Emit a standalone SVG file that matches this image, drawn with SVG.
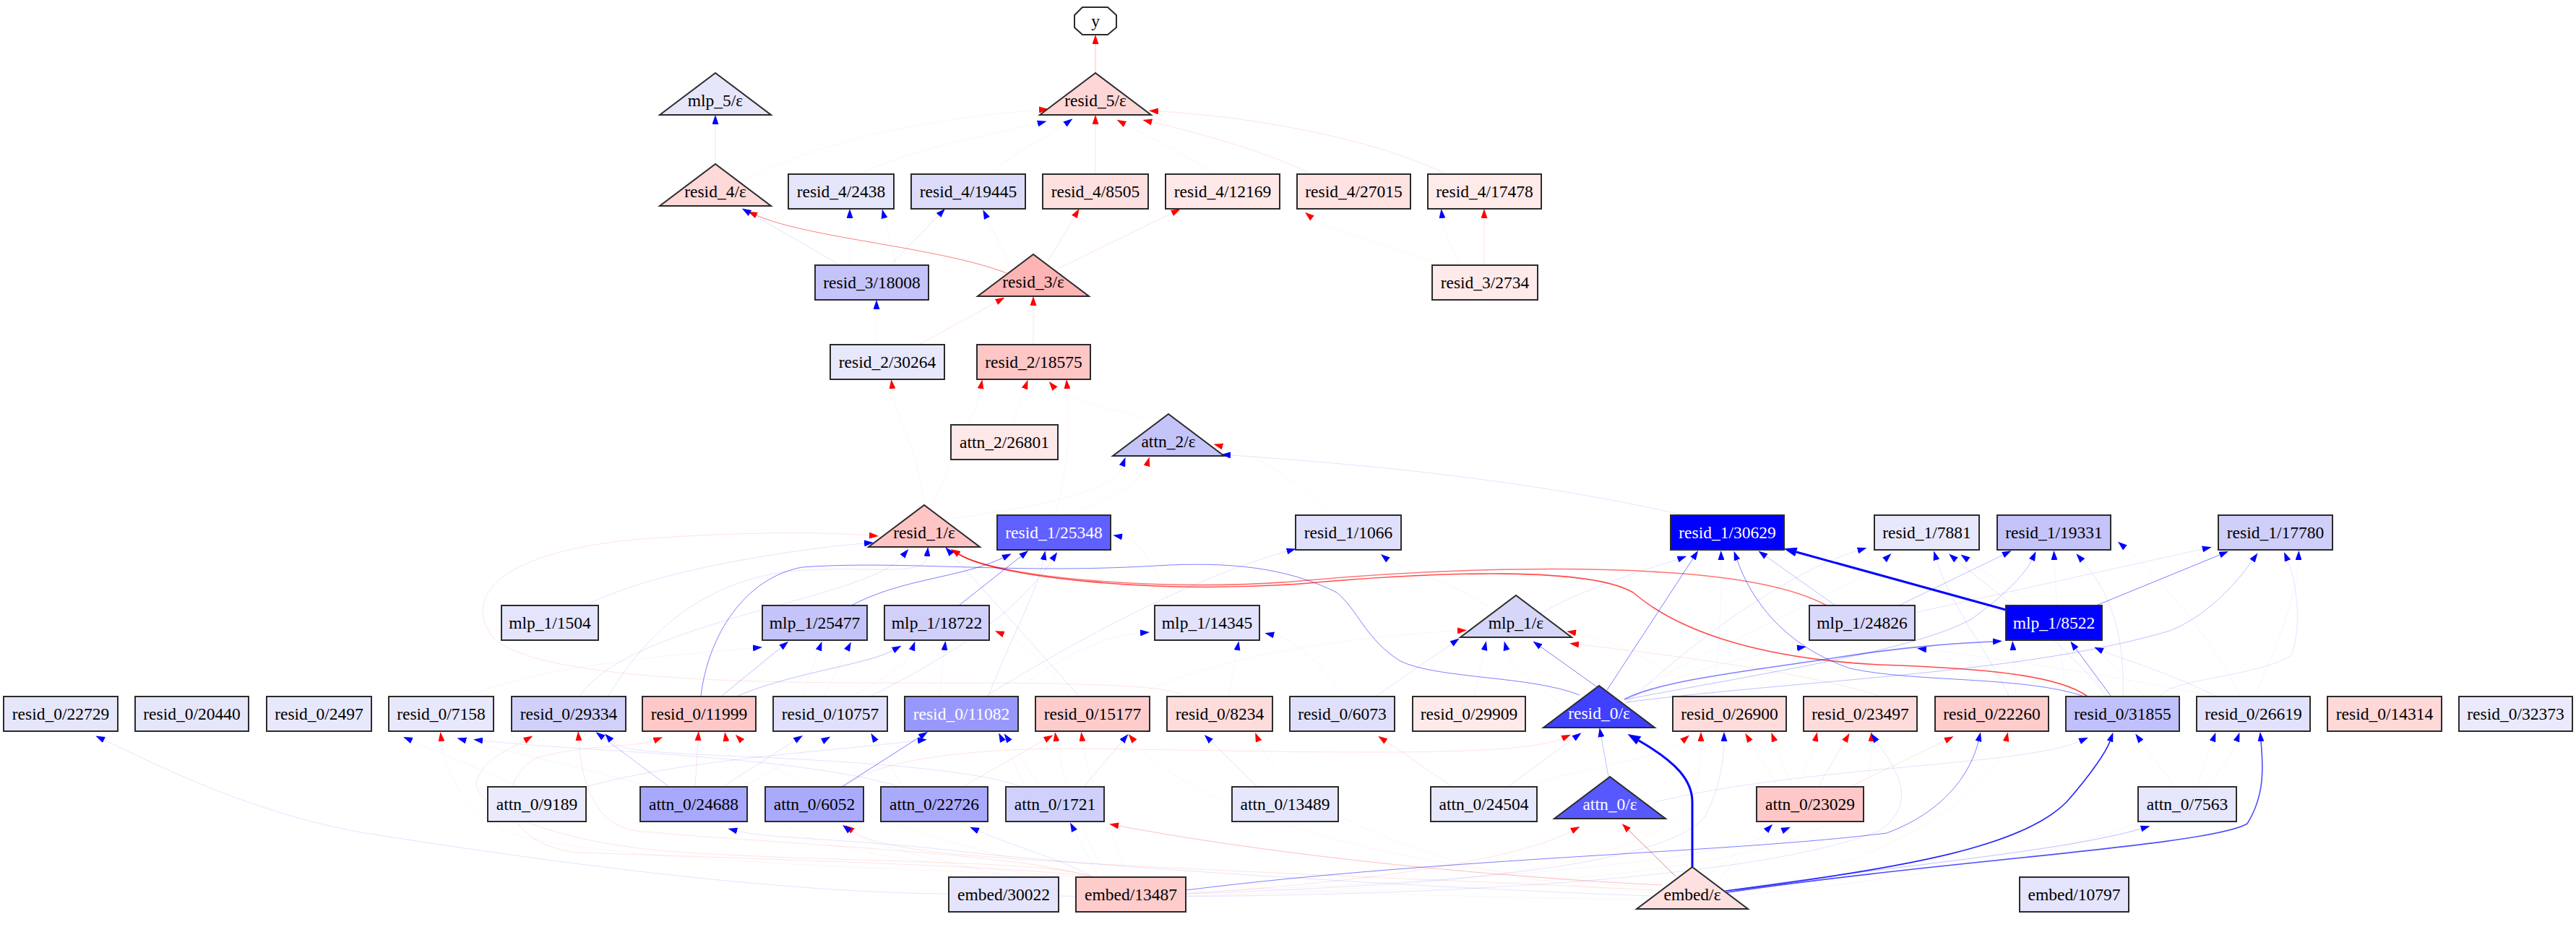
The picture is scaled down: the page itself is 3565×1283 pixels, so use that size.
<svg xmlns="http://www.w3.org/2000/svg" width="3565" height="1283" viewBox="0 0 3565 1283">
<style>
.nd rect, .nd polygon {stroke:#2b2b2b; stroke-width:2}
.nd text {font-family:"Liberation Serif","Times New Roman",serif; font-size:23.5px; text-anchor:middle; fill:#000}
.nd text.w {fill:#fff}
#edges path {fill:none; stroke-width:1}
#edges .r {stroke:#f00; marker-end:url(#ar)}
#edges .b {stroke:#00f; marker-end:url(#ab)}
#edges .bl {stroke:#00f; marker-end:url(#abL); stroke-width:3}
#edges .w2 {stroke-width:1.6}
#edges .nm {marker-end:none}
.o1 {stroke-opacity:.045} .o2 {stroke-opacity:.11} .o3 {stroke-opacity:.25} .o4 {stroke-opacity:.5} .o5 {stroke-opacity:.7}
</style>
<defs>
<marker id="ar" viewBox="0 0 13 9" refX="0" refY="4.5" markerWidth="13" markerHeight="9" markerUnits="userSpaceOnUse" orient="auto"><path d="M0,0 L13,4.5 L0,9 z" fill="#f00"/></marker>
<marker id="ab" viewBox="0 0 13 9" refX="0" refY="4.5" markerWidth="13" markerHeight="9" markerUnits="userSpaceOnUse" orient="auto"><path d="M0,0 L13,4.5 L0,9 z" fill="#00f"/></marker>
<marker id="abL" viewBox="0 0 18 13" refX="0" refY="6.5" markerWidth="18" markerHeight="13" markerUnits="userSpaceOnUse" orient="auto"><path d="M0,0 L18,6.5 L0,13 z" fill="#00f"/></marker>
</defs>
<rect width="3565" height="1283" fill="#fff"/>

<g id="edges">
<!-- layers 3-5 -->
<path class="r o3" d="M1516,101 L1516,61"/>
<path class="r o2" d="M1516,241 L1516,172"/>
<path class="r o2" d="M1814,241 C1760,212 1660,184 1594,169"/>
<path class="r o2" d="M2002,241 C1900,190 1720,160 1603,154"/>
<path class="r o1" d="M1680,241 C1640,212 1590,190 1557,172"/>
<path class="b o1" d="M1370,241 C1400,212 1450,190 1474,172"/>
<path class="b o1" d="M1190,241 C1260,205 1380,185 1436,171"/>
<path class="r o1" d="M1030,250 C1150,185 1330,160 1438,152"/>
<path class="b o2" d="M990,227 L990,172"/>
<path class="r o4" d="M1393,378 C1300,342 1120,330 1047,298"/>
<path class="b o2" d="M1163,367 L1038,295"/>
<path class="b o2" d="M1232,367 L1299,298"/>
<path class="r o2" d="M1450,362 L1487,300"/>
<path class="r o2" d="M1464,372 L1622,295"/>
<path class="r o2" d="M2054,366 L2054,302"/>
<path class="r o1" d="M1990,366 C1930,340 1840,322 1816,302"/>
<path class="b o1" d="M2020,366 C2008,340 1998,320 1996,302"/>
<path class="b o1" d="M1176,367 L1176,302"/>
<path class="b o1" d="M1240,367 L1224,302"/>
<path class="b o1" d="M1398,368 L1366,302"/>
<!-- layer 2 -->
<path class="r o2" d="M1272,477 L1379,418"/>
<path class="r o2" d="M1430,477 L1430,423"/>
<path class="b o1" d="M1213,477 L1213,428"/>
<path class="r o1" d="M1279,699 C1270,620 1240,580 1235,538"/>
<path class="r o1" d="M1400,588 L1418,538"/>
<path class="r o1" d="M1290,700 C1320,630 1350,575 1357,538"/>
<path class="r o1" d="M1590,580 C1520,562 1470,550 1460,538"/>
<path class="r o1" d="M1460,713 C1480,650 1480,575 1477,538"/>
<path class="b o2" d="M2330,713 C2100,660 1850,640 1703,630"/>
<path class="r o1" d="M1840,713 C1780,650 1730,628 1692,618"/>
<path class="b o1" d="M1300,720 C1450,700 1540,680 1553,645"/>
<path class="r o1" d="M1480,713 C1530,690 1580,670 1587,645"/>
<!-- layer 1 residuals -->
<path class="r w2" style="stroke-opacity:.55" d="M2528,838 C2480,812 2400,798 2300,792 C2150,782 1950,790 1800,804 C1620,820 1380,800 1327,767"/>
<path class="r w2" style="stroke-opacity:.7" d="M2889,964 C2850,935 2750,925 2600,920 C2450,912 2330,880 2260,820 C2200,785 2000,790 1800,808 C1600,822 1380,800 1327,767"/>
<path class="r o2" d="M1640,964 C1620,945 1450,945 1200,945 C900,945 720,925 680,880 C640,820 700,760 900,745 C1050,735 1150,737 1203,741"/>
<path class="b o2" d="M811,838 C900,790 1100,760 1196,752"/>
<path class="b o2" d="M803,963 C870,860 1200,830 1249,770"/>
<path class="b o2" d="M842,963 C910,850 1000,800 1100,790 C1200,782 1280,800 1283,770"/>
<path class="b o2" d="M1493,963 L1317,767"/>
<path class="b o4" d="M1178,838 C1250,800 1330,800 1388,772"/>
<path class="b o4" d="M1327,838 L1413,770"/>
<path class="b o2" d="M1368,963 C1400,880 1435,820 1444,775"/>
<path class="b o2" d="M1206,963 C1290,920 1400,860 1456,775"/>
<path class="b o1" d="M1620,838 C1600,790 1580,748 1553,743"/>
<path class="b o2" d="M1365,963 C1500,880 1650,800 1781,763"/>
<path class="b o1" d="M2060,840 C2000,800 1940,790 1921,775"/>
<path class="bl" d="M2776,844 L2486,764"/>
<path class="b o4" d="M2224,955 L2343,773"/>
<path class="b o4" d="M2885,964 C2800,935 2650,945 2560,925 C2460,890 2420,820 2404,775"/>
<path class="b o2" d="M2130,850 C2200,810 2290,785 2322,774"/>
<path class="b o3" d="M2540,838 L2444,770"/>
<path class="b o1" d="M2370,964 C2380,900 2383,820 2382,775"/>
<path class="b o2" d="M2250,975 C2350,880 2480,790 2571,762"/>
<path class="b o1" d="M2245,968 C2350,900 2560,820 2608,775"/>
<path class="b o2" d="M2780,963 C2750,900 2700,840 2680,775"/>
<path class="b o2" d="M2915,963 C2850,880 2760,820 2707,775"/>
<path class="b o1" d="M2965,963 C2920,900 2800,830 2724,775"/>
<path class="b o3" d="M2628,838 L2772,768"/>
<path class="b o3" d="M2250,968 C2450,930 2650,900 2728,857 C2780,820 2805,790 2812,775"/>
<path class="b o1" d="M2860,964 C2850,900 2845,820 2843,775"/>
<path class="b o2" d="M2938,963 C2940,900 2930,830 2882,776"/>
<path class="b o1" d="M3100,963 C3060,880 2980,790 2941,758"/>
<path class="b o2" d="M2650,848 L3048,760"/>
<path class="b o4" d="M2901,838 L3072,768"/>
<path class="b o3" d="M2250,972 C2500,940 2800,933 3003,873 C3060,850 3100,800 3117,776"/>
<path class="b o2" d="M2990,963 C3003,940 3130,935 3171,907 C3185,870 3180,810 3166,776"/>
<path class="b o1" d="M3120,963 C3150,900 3180,820 3181,775"/>
<!-- layer 1 mlp -->
<path class="b o3" d="M999,963 L1081,896"/>
<path class="b o3" d="M1021,963 C1100,930 1200,920 1236,900"/>
<path class="b o1" d="M650,963 C750,920 950,905 1042,897"/>
<path class="b o1" d="M1110,963 L1133,900"/>
<path class="b o1" d="M1140,963 L1172,900"/>
<path class="b o1" d="M1180,963 C1220,940 1255,920 1262,900"/>
<path class="b o1" d="M1300,963 L1307,900"/>
<path class="r o1" d="M1480,963 C1450,920 1420,890 1389,878"/>
<path class="b o1" d="M1395,963 C1450,920 1520,880 1578,876"/>
<path class="b o1" d="M1860,963 C1820,910 1790,885 1763,879"/>
<path class="b o1" d="M1700,963 L1712,900"/>
<path class="r o1" d="M1570,963 C1700,900 1900,880 2017,873"/>
<path class="b o2" d="M1905,963 L2009,891"/>
<path class="b o1" d="M2040,963 L2054,900"/>
<path class="b o1" d="M2160,975 C2120,940 2090,920 2085,900"/>
<path class="b o4" d="M2212,952 L2132,895"/>
<path class="r o1" d="M2360,963 C2300,920 2230,885 2181,876"/>
<path class="r o2" d="M2600,963 C2500,930 2300,905 2185,892"/>
<path class="b o1" d="M2240,975 C2300,940 2400,910 2487,897"/>
<path class="b o1" d="M3060,963 C2900,930 2750,910 2666,899"/>
<path class="b o4 w2" d="M2248,968 C2300,940 2450,925 2542,910 C2650,893 2720,890 2758,888"/>
<path class="b o1" d="M2790,963 L2786,900"/>
<path class="b o4" d="M2921,963 L2873,898"/>
<path class="b o2" d="M3066,963 C3000,930 2930,910 2910,901"/>
<path class="b o4 nm" d="M970,963 C980,880 1030,800 1110,785 C1250,775 1400,795 1600,783 C1700,777 1780,785 1850,820 C1880,845 1890,885 1938,915 C1990,940 2119,935 2186,962"/>
<!-- layer 0 residuals -->
<path class="b o2" d="M1313,1237 C1100,1236 800,1200 500,1152 C350,1125 230,1065 144,1024"/>
<path class="b o3" d="M926,1089 L835,1021"/>
<path class="r o2" d="M962,1089 L966,1025"/>
<path class="b o4" d="M1165,1089 L1273,1020"/>
<path class="b o2" d="M1000,1089 L1100,1025"/>
<path class="r o2" d="M1332,1089 L1446,1024"/>
<path class="b o2" d="M1414,1089 C1340,1060 1100,1050 980,1045 C900,1040 860,1040 846,1025"/>
<path class="b o2" d="M811,1089 C950,1050 1150,1040 1270,1025"/>
<path class="b o2" d="M1246,1089 C1100,1045 800,1040 668,1025"/>
<path class="r o2" d="M1514,1214 C1450,1190 1200,1195 950,1180 C780,1170 650,1120 660,1080 C670,1050 700,1040 726,1025"/>
<path class="r o2" d="M1514,1214 C1400,1180 1100,1170 880,1150 C820,1140 805,1080 801,1025"/>
<path class="r o2" d="M1514,1214 C1420,1200 1100,1190 800,1180 C700,1170 680,1090 740,1050 C800,1030 880,1035 905,1025"/>
<path class="r o3" d="M2300,1225 C2100,1215 1800,1190 1548,1143"/>
<path class="r o2" d="M2290,1232 C2000,1217 1500,1200 1300,1180 C1240,1172 1200,1165 1180,1150"/>
<path class="b o2" d="M2285,1240 C2000,1230 1500,1200 1300,1175 C1150,1160 1060,1160 1020,1150"/>
<path class="b o2" d="M1514,1214 C1470,1190 1400,1170 1354,1150"/>
<path class="b o1" d="M1520,1214 L1487,1150"/>
<path class="b o3" d="M2388,1233 C2600,1200 2850,1180 2963,1147"/>
<path class="r o4" d="M2319,1213 L2254,1149"/>
<path class="r o2" d="M1641,1237 C1900,1220 2100,1190 2175,1150"/>
<path class="b o3" d="M2226,1075 L2216,1020"/>
<path class="bl" d="M2342,1200 L2342,1110 C2342,1080 2320,1055 2268,1025"/>
<path class="b w2" style="stroke-opacity:.85" d="M2388,1233 C2650,1200 2800,1170 2860,1110 C2895,1070 2915,1040 2920,1026"/>
<path class="b o5 w2" d="M2390,1235 C2700,1190 3060,1170 3110,1140 C3135,1100 3132,1060 3129,1026"/>
<path class="b o4" d="M1641,1232 C2000,1187 2400,1180 2611,1153 C2700,1120 2730,1060 2738,1026"/>
<path class="b o2" d="M1641,1237 C2000,1225 2300,1200 2360,1130 C2380,1090 2386,1050 2386,1026"/>
<path class="b o2" d="M2086,1089 L2178,1022"/>
<path class="r o2" d="M1170,1089 C1200,1060 1300,1035 1500,1036 C1800,1040 2100,1050 2162,1022"/>
<path class="r o2" d="M2516,1089 L2553,1026"/>
<path class="r o2" d="M2560,1089 L2692,1025"/>
<path class="b o1" d="M3010,1089 L2963,1026"/>
<path class="r o1" d="M2480,1089 L2456,1026"/>
<path class="r o1" d="M2110,1089 C2200,1060 2300,1050 2328,1026"/>
<path class="r o1" d="M1641,1240 C2000,1230 2300,1200 2345,1100 C2352,1070 2354,1050 2354,1026"/>
<path class="r o1" d="M2460,1089 L2422,1026"/>
<path class="r o1" d="M2360,1215 C2450,1150 2500,1080 2512,1026"/>
<path class="r o1" d="M1641,1240 C2100,1230 2500,1210 2580,1100 C2588,1070 2590,1050 2590,1026"/>
<path class="b o2" d="M1465,1240 C1800,1245 2400,1230 2600,1150 C2660,1110 2620,1060 2597,1026"/>
<path class="r o1" d="M2400,1235 C2600,1200 2760,1100 2776,1026"/>
<path class="b o2" d="M2290,1110 C2500,1060 2800,1060 2878,1026"/>
<path class="b o1" d="M3040,1089 L3062,1026"/>
<path class="b o1" d="M2400,1240 C2800,1200 3050,1150 3095,1026"/>
<path class="b o1" d="M720,1089 L570,1025"/>
<path class="r o1" d="M1500,1214 C1200,1200 800,1190 700,1150 C630,1110 615,1060 611,1026"/>
<path class="b o1" d="M900,1089 C800,1060 700,1040 645,1025"/>
<path class="r o1" d="M2280,1245 C1800,1240 1200,1210 1100,1150 C1040,1110 1010,1060 1005,1026"/>
<path class="r o1" d="M1510,1214 C1300,1170 1100,1100 1027,1026"/>
<path class="b o1" d="M1030,1089 L1138,1026"/>
<path class="b o1" d="M1250,1089 L1212,1026"/>
<path class="b o1" d="M1420,1089 L1388,1026"/>
<path class="b o1" d="M1440,1089 L1397,1026"/>
<path class="r o1" d="M1530,1214 C1500,1150 1470,1080 1462,1026"/>
<path class="r o1" d="M1560,1214 C1540,1150 1505,1080 1498,1026"/>
<path class="b o2" d="M1500,1089 L1553,1026"/>
<path class="r o1" d="M2280,1228 C1900,1200 1650,1120 1570,1026"/>
<path class="b o2" d="M1740,1089 L1676,1026"/>
<path class="r o1" d="M2285,1235 C2000,1220 1780,1120 1742,1026"/>
<path class="r o2" d="M2010,1089 L1918,1026"/>
<!-- layer 0 attention -->
<path class="b o1" d="M2380,1215 L2444,1150"/>
<path class="b o1" d="M1641,1235 C2000,1220 2350,1200 2466,1150"/>
<path class="b o1" d="M1400,1214 C1300,1190 1200,1170 1176,1150"/>
</g>

<g id="n_y" class="nd"><polygon points="1498,10 1533,10 1545,21 1545,38 1533,48 1498,48 1487,38 1487,21" fill="#fff" stroke-linejoin="round"/><text x="1516" y="37">y</text></g>

<g id="n_mlp_5_eps" class="nd"><polygon points="913,159 990,101 1067,159" fill="#e6e6fa"/><text x="990" y="147">mlp_5/ε</text></g>
<g id="n_resid_5_eps" class="nd"><polygon points="1439,159 1516,101 1593,159" fill="#ffd6d6"/><text x="1516" y="147">resid_5/ε</text></g>

<g id="n_resid_4_eps" class="nd"><polygon points="913,285 990,227 1067,285" fill="#ffd8d8"/><text x="990" y="273">resid_4/ε</text></g>
<g id="n_resid_4_2438" class="nd"><rect x="1091" y="241" width="146" height="48" fill="#e6e6fa"/><text x="1164" y="273">resid_4/2438</text></g>
<g id="n_resid_4_19445" class="nd"><rect x="1261" y="241" width="158" height="48" fill="#dcdcfa"/><text x="1340" y="273">resid_4/19445</text></g>
<g id="n_resid_4_8505" class="nd"><rect x="1443" y="241" width="146" height="48" fill="#ffe0e0"/><text x="1516" y="273">resid_4/8505</text></g>
<g id="n_resid_4_12169" class="nd"><rect x="1613" y="241" width="158" height="48" fill="#ffe8e8"/><text x="1692" y="273">resid_4/12169</text></g>
<g id="n_resid_4_27015" class="nd"><rect x="1795" y="241" width="157" height="48" fill="#ffe2e2"/><text x="1873.5" y="273">resid_4/27015</text></g>
<g id="n_resid_4_17478" class="nd"><rect x="1976" y="241" width="157" height="48" fill="#ffeaea"/><text x="2054.5" y="273">resid_4/17478</text></g>

<g id="n_resid_3_18008" class="nd"><rect x="1128" y="367" width="157" height="48" fill="#c4c4fa"/><text x="1206.5" y="399">resid_3/18008</text></g>
<g id="n_resid_3_eps" class="nd"><polygon points="1353,410 1430,352 1507,410" fill="#ffb4b4"/><text x="1430" y="398">resid_3/ε</text></g>
<g id="n_resid_3_2734" class="nd"><rect x="1982" y="367" width="146" height="48" fill="#ffeaea"/><text x="2055" y="399">resid_3/2734</text></g>

<g id="n_resid_2_30264" class="nd"><rect x="1149" y="477" width="158" height="48" fill="#e8e8fc"/><text x="1228" y="509">resid_2/30264</text></g>
<g id="n_resid_2_18575" class="nd"><rect x="1352" y="477" width="157" height="48" fill="#ffc6c6"/><text x="1430.5" y="509">resid_2/18575</text></g>
<g id="n_attn_2_26801" class="nd"><rect x="1316" y="588" width="148" height="48" fill="#ffe8e8"/><text x="1390" y="620">attn_2/26801</text></g>
<g id="n_attn_2_eps" class="nd"><polygon points="1540,631 1617,573 1694,631" fill="#c4c4f8"/><text x="1617" y="619">attn_2/ε</text></g>

<g id="n_resid_1_eps" class="nd"><polygon points="1202,757 1279,699 1356,757" fill="#ffc4c4"/><text x="1279" y="745">resid_1/ε</text></g>
<g id="n_resid_1_25348" class="nd"><rect x="1380" y="713" width="157" height="48" fill="#6060ff"/><text class="w" x="1458.5" y="745">resid_1/25348</text></g>
<g id="n_resid_1_1066" class="nd"><rect x="1793" y="713" width="146" height="48" fill="#e0e0fc"/><text x="1866" y="745">resid_1/1066</text></g>
<g id="n_resid_1_30629" class="nd"><rect x="2312" y="713" width="157" height="48" fill="#0000ff"/><text class="w" x="2390.5" y="745">resid_1/30629</text></g>
<g id="n_resid_1_7881" class="nd"><rect x="2594" y="713" width="145" height="48" fill="#e8e8fc"/><text x="2666.5" y="745">resid_1/7881</text></g>
<g id="n_resid_1_19331" class="nd"><rect x="2764" y="713" width="157" height="48" fill="#c4c4fa"/><text x="2842.5" y="745">resid_1/19331</text></g>
<g id="n_resid_1_17780" class="nd"><rect x="3070" y="713" width="158" height="48" fill="#cfcffa"/><text x="3149" y="745">resid_1/17780</text></g>

<g id="n_mlp_1_1504" class="nd"><rect x="694" y="838" width="134" height="48" fill="#e4e4fc"/><text x="761" y="870">mlp_1/1504</text></g>
<g id="n_mlp_1_25477" class="nd"><rect x="1055" y="838" width="145" height="48" fill="#c4c4fa"/><text x="1127.5" y="870">mlp_1/25477</text></g>
<g id="n_mlp_1_18722" class="nd"><rect x="1224" y="838" width="145" height="48" fill="#d0d0fa"/><text x="1296.5" y="870">mlp_1/18722</text></g>
<g id="n_mlp_1_14345" class="nd"><rect x="1598" y="838" width="145" height="48" fill="#e2e2fc"/><text x="1670.5" y="870">mlp_1/14345</text></g>
<g id="n_mlp_1_eps" class="nd"><polygon points="2021,882 2098,824 2175,882" fill="#d6d6f8"/><text x="2098" y="870">mlp_1/ε</text></g>
<g id="n_mlp_1_24826" class="nd"><rect x="2504" y="838" width="146" height="48" fill="#d8d8fa"/><text x="2577" y="870">mlp_1/24826</text></g>
<g id="n_mlp_1_8522" class="nd"><rect x="2776" y="838" width="133" height="48" fill="#0000ff"/><text class="w" x="2842.5" y="870">mlp_1/8522</text></g>

<g id="n_resid_0_22729" class="nd"><rect x="5" y="964" width="158" height="48" fill="#e6e6fa"/><text x="84" y="996">resid_0/22729</text></g>
<g id="n_resid_0_20440" class="nd"><rect x="187" y="964" width="157" height="48" fill="#e6e6fa"/><text x="265.5" y="996">resid_0/20440</text></g>
<g id="n_resid_0_2497" class="nd"><rect x="369" y="964" width="145" height="48" fill="#e8e8fc"/><text x="441.5" y="996">resid_0/2497</text></g>
<g id="n_resid_0_7158" class="nd"><rect x="538" y="964" width="145" height="48" fill="#e8e8fc"/><text x="610.5" y="996">resid_0/7158</text></g>
<g id="n_resid_0_29334" class="nd"><rect x="708" y="964" width="158" height="48" fill="#d0d0fa"/><text x="787" y="996">resid_0/29334</text></g>
<g id="n_resid_0_11999" class="nd"><rect x="889" y="964" width="157" height="48" fill="#ffc8c8"/><text x="967.5" y="996">resid_0/11999</text></g>
<g id="n_resid_0_10757" class="nd"><rect x="1070" y="964" width="158" height="48" fill="#e0e0fc"/><text x="1149" y="996">resid_0/10757</text></g>
<g id="n_resid_0_11082" class="nd"><rect x="1252" y="964" width="157" height="48" fill="#9898fc"/><text class="w" x="1330.5" y="996">resid_0/11082</text></g>
<g id="n_resid_0_15177" class="nd"><rect x="1433" y="964" width="158" height="48" fill="#ffcccc"/><text x="1512" y="996">resid_0/15177</text></g>
<g id="n_resid_0_8234" class="nd"><rect x="1615" y="964" width="146" height="48" fill="#ffdcdc"/><text x="1688" y="996">resid_0/8234</text></g>
<g id="n_resid_0_6073" class="nd"><rect x="1785" y="964" width="145" height="48" fill="#e0e0fc"/><text x="1857.5" y="996">resid_0/6073</text></g>
<g id="n_resid_0_29909" class="nd"><rect x="1955" y="964" width="156" height="48" fill="#ffeaea"/><text x="2033" y="996">resid_0/29909</text></g>
<g id="n_resid_0_eps" class="nd"><polygon points="2136,1007 2213,949 2290,1007" fill="#4040ff"/><text class="w" x="2213" y="995">resid_0/ε</text></g>
<g id="n_resid_0_26900" class="nd"><rect x="2315" y="964" width="157" height="48" fill="#ffdcdc"/><text x="2393.5" y="996">resid_0/26900</text></g>
<g id="n_resid_0_23497" class="nd"><rect x="2496" y="964" width="157" height="48" fill="#ffdcdc"/><text x="2574.5" y="996">resid_0/23497</text></g>
<g id="n_resid_0_22260" class="nd"><rect x="2678" y="964" width="157" height="48" fill="#ffcccc"/><text x="2756.5" y="996">resid_0/22260</text></g>
<g id="n_resid_0_31855" class="nd"><rect x="2859" y="964" width="157" height="48" fill="#c0c0fc"/><text x="2937.5" y="996">resid_0/31855</text></g>
<g id="n_resid_0_26619" class="nd"><rect x="3040" y="964" width="157" height="48" fill="#e2e2fc"/><text x="3118.5" y="996">resid_0/26619</text></g>
<g id="n_resid_0_14314" class="nd"><rect x="3221" y="964" width="158" height="48" fill="#ffd8d8"/><text x="3300" y="996">resid_0/14314</text></g>
<g id="n_resid_0_32373" class="nd"><rect x="3403" y="964" width="157" height="48" fill="#eaeafc"/><text x="3481.5" y="996">resid_0/32373</text></g>

<g id="n_attn_0_9189" class="nd"><rect x="675" y="1089" width="136" height="48" fill="#eaeafc"/><text x="743" y="1121">attn_0/9189</text></g>
<g id="n_attn_0_24688" class="nd"><rect x="886" y="1089" width="148" height="48" fill="#a8a8fc"/><text x="960" y="1121">attn_0/24688</text></g>
<g id="n_attn_0_6052" class="nd"><rect x="1059" y="1089" width="136" height="48" fill="#aaaafc"/><text x="1127" y="1121">attn_0/6052</text></g>
<g id="n_attn_0_22726" class="nd"><rect x="1219" y="1089" width="148" height="48" fill="#aaaafc"/><text x="1293" y="1121">attn_0/22726</text></g>
<g id="n_attn_0_1721" class="nd"><rect x="1392" y="1089" width="136" height="48" fill="#d0d0fc"/><text x="1460" y="1121">attn_0/1721</text></g>
<g id="n_attn_0_13489" class="nd"><rect x="1705" y="1089" width="147" height="48" fill="#e6e6fc"/><text x="1778.5" y="1121">attn_0/13489</text></g>
<g id="n_attn_0_24504" class="nd"><rect x="1980" y="1089" width="147" height="48" fill="#e8e8fc"/><text x="2053.5" y="1121">attn_0/24504</text></g>
<g id="n_attn_0_eps" class="nd"><polygon points="2151,1133 2228,1075 2305,1133" fill="#5858ff"/><text class="w" x="2228" y="1121">attn_0/ε</text></g>
<g id="n_attn_0_23029" class="nd"><rect x="2431" y="1089" width="148" height="48" fill="#ffc8c8"/><text x="2505" y="1121">attn_0/23029</text></g>
<g id="n_attn_0_7563" class="nd"><rect x="2959" y="1089" width="136" height="48" fill="#e6e6fc"/><text x="3027" y="1121">attn_0/7563</text></g>

<g id="n_embed_30022" class="nd"><rect x="1313" y="1214" width="152" height="48" fill="#e4e4fc"/><text x="1389" y="1246">embed/30022</text></g>
<g id="n_embed_13487" class="nd"><rect x="1489" y="1214" width="152" height="48" fill="#ffcccc"/><text x="1565" y="1246">embed/13487</text></g>
<g id="n_embed_eps" class="nd"><polygon points="2265,1258 2342,1200 2419,1258" fill="#ffe0e0"/><text x="2342" y="1246">embed/ε</text></g>
<g id="n_embed_10797" class="nd"><rect x="2795" y="1214" width="151" height="48" fill="#e4e4fc"/><text x="2870.5" y="1246">embed/10797</text></g>
</svg>
